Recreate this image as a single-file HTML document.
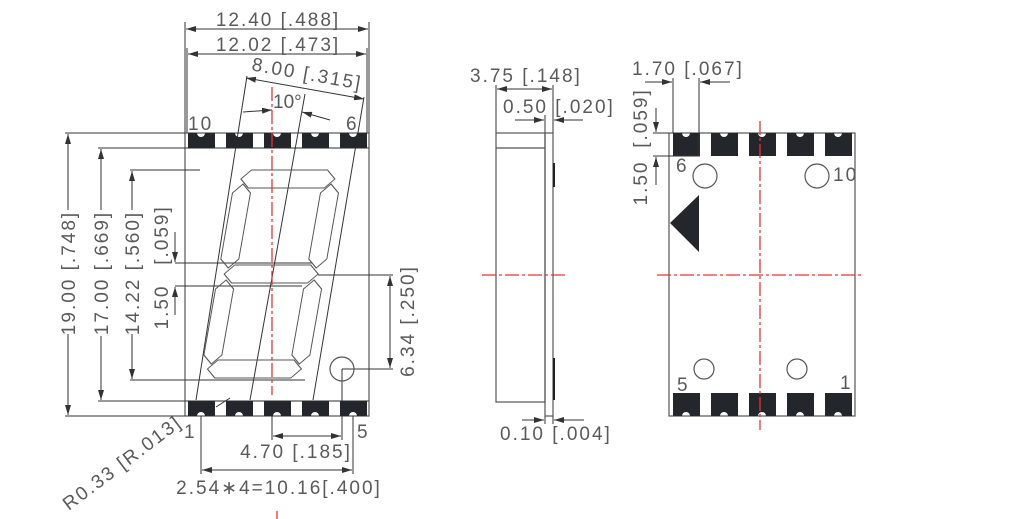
<!DOCTYPE html>
<html><head><meta charset="utf-8"><style>
html,body{margin:0;padding:0;background:#fff;width:1024px;height:519px;overflow:hidden}
text{font-family:"Liberation Sans",sans-serif;fill:#5a5a5a;font-size:19px;letter-spacing:2px}
</style></head><body>
<svg width="1024" height="519" viewBox="0 0 1024 519" xmlns="http://www.w3.org/2000/svg">
<defs>
<marker id="a" viewBox="0 0 10 6" refX="10" refY="3" markerWidth="10" markerHeight="6" orient="auto-start-reverse" markerUnits="userSpaceOnUse"><path d="M0,0L10,3L0,6z" fill="#333"/></marker>
<g id="padT"><path d="M0,0H9A4,4 0 0 0 17,0H27V15H0Z" fill="#23272b"/></g>
<g id="padB"><path d="M0,0H27V15H17A4,4 0 0 0 9,15H0Z" fill="#23272b"/></g>
<g id="padRT"><path d="M0,0H9A4,4 0 0 0 17,0H27V23H0Z" fill="#23272b"/></g>
<g id="padRB"><path d="M0,0H27V23H17A4,4 0 0 0 9,23H0Z" fill="#23272b"/></g>
</defs>
<g stroke="#555" stroke-width="1.2" fill="none">
<rect x="185" y="133" width="184" height="283"/>
<line x1="185" y1="133" x2="185" y2="22"/><line x1="369" y1="133" x2="369" y2="22"/>
<line x1="187" y1="133" x2="187" y2="48"/><line x1="367" y1="133" x2="367" y2="48"/>
<line x1="185" y1="148" x2="369" y2="148"/><line x1="185" y1="401" x2="369" y2="401"/>
</g>
<g stroke="#333" stroke-width="1" fill="none">
<line x1="186" y1="29" x2="368" y2="29" marker-start="url(#a)" marker-end="url(#a)"/>
<line x1="188" y1="54" x2="366" y2="54" marker-start="url(#a)" marker-end="url(#a)"/>
<line x1="246" y1="78" x2="364" y2="99" marker-start="url(#a)" marker-end="url(#a)"/>
<line x1="247" y1="76" x2="196" y2="400"/>
<line x1="364" y1="97" x2="313" y2="400"/>
<line x1="305" y1="94" x2="250" y2="400"/>
<line x1="243" y1="112" x2="272" y2="110" marker-end="url(#a)"/>
<line x1="330" y1="120" x2="302" y2="112" marker-end="url(#a)"/>
<line x1="65" y1="133" x2="185" y2="133"/><line x1="65" y1="416" x2="185" y2="416"/>
<line x1="98" y1="148" x2="185" y2="148"/><line x1="98" y1="401" x2="185" y2="401"/>
<line x1="130" y1="170" x2="200" y2="170"/><line x1="130" y1="380" x2="305" y2="380"/>
<line x1="68" y1="210" x2="68" y2="134" marker-end="url(#a)"/><line x1="68" y1="334" x2="68" y2="415" marker-end="url(#a)"/>
<line x1="101" y1="210" x2="101" y2="149" marker-end="url(#a)"/><line x1="101" y1="336" x2="101" y2="400" marker-end="url(#a)"/>
<line x1="132" y1="210" x2="132" y2="171" marker-end="url(#a)"/><line x1="132" y1="334" x2="132" y2="379" marker-end="url(#a)"/>
<line x1="175" y1="263" x2="312" y2="263"/><line x1="175" y1="286" x2="302" y2="286"/>
<line x1="175" y1="232" x2="175" y2="262" marker-end="url(#a)"/><line x1="175" y1="315" x2="175" y2="287" marker-end="url(#a)"/>
<line x1="318" y1="275" x2="393" y2="275"/><line x1="342" y1="369" x2="393" y2="369"/>
<line x1="390" y1="276" x2="390" y2="368" marker-start="url(#a)" marker-end="url(#a)"/>
<line x1="342" y1="369" x2="342" y2="440"/>
<line x1="272" y1="416" x2="272" y2="440"/>
<line x1="273" y1="436" x2="341" y2="436" marker-start="url(#a)" marker-end="url(#a)"/>
<line x1="201" y1="416" x2="201" y2="474"/><line x1="353" y1="416" x2="353" y2="474"/>
<line x1="202" y1="470" x2="352" y2="470" marker-start="url(#a)" marker-end="url(#a)"/>
<line x1="230" y1="398" x2="216" y2="407"/>
</g>
<circle cx="342" cy="369" r="12" fill="none" stroke="#555" stroke-width="1.2"/>
<g transform="translate(0,275) skewX(-10) translate(0,-275)" fill="none" stroke="#555" stroke-width="1">
<path d="M224,179L233,170H309L318,179L309,188H233Z"/>
<path d="M224,274L233,265H309L318,274L309,283H233Z"/>
<path d="M224,369L233,360H309L318,369L309,378H233Z"/>
<path d="M227,184L236,193V259L227,268L218,259V193Z"/>
<path d="M315,184L324,193V259L315,268L306,259V193Z"/>
<path d="M227,280L236,289V355L227,364L218,355V289Z"/>
<path d="M315,280L324,289V355L315,364L306,355V289Z"/>
</g>
<use href="#padT" x="188" y="133"/><use href="#padT" x="226" y="133"/><use href="#padT" x="264" y="133"/><use href="#padT" x="302" y="133"/><use href="#padT" x="340" y="133"/>
<use href="#padB" x="188" y="401"/><use href="#padB" x="226" y="401"/><use href="#padB" x="264" y="401"/><use href="#padB" x="302" y="401"/><use href="#padB" x="340" y="401"/>
<line x1="272" y1="87" x2="272" y2="395" stroke="#e33" stroke-width="1.3" stroke-dasharray="14,3,3,3"/>
<line x1="277" y1="511" x2="277" y2="519" stroke="#e33" stroke-width="1.3"/>
<text x="278" y="26" text-anchor="middle">12.40 [.488]</text>
<text x="278" y="51" text-anchor="middle">12.02 [.473]</text>
<text transform="translate(306,80) rotate(10)" text-anchor="middle">8.00 [.315]</text>
<text x="273" y="108" style="letter-spacing:0">10°</text>
<text x="188" y="130">10</text>
<text x="346" y="130">6</text>
<text x="184" y="438">1</text>
<text x="357" y="438">5</text>
<text transform="translate(75,273) rotate(-90)" text-anchor="middle">19.00 [.748]</text>
<text transform="translate(108,273) rotate(-90)" text-anchor="middle">17.00 [.669]</text>
<text transform="translate(139,273) rotate(-90)" text-anchor="middle">14.22 [.560]</text>
<text transform="translate(168,235) rotate(-90)" text-anchor="middle">[.059]</text>
<text transform="translate(168,307) rotate(-90)" text-anchor="middle">1.50</text>
<text transform="translate(414,321) rotate(-90)" text-anchor="middle">6.34 [.250]</text>
<text x="296" y="458" text-anchor="middle">4.70 [.185]</text>
<text x="279" y="494" text-anchor="middle">2.54∗4=10.16[.400]</text>
<text transform="translate(126,468) rotate(-37)" text-anchor="middle">R0.33 [R.013]</text>
<g stroke="#555" stroke-width="1.2" fill="none">
<rect x="496" y="133" width="49" height="269"/>
<line x1="496" y1="148" x2="545" y2="148"/>
<rect x="545" y="133" width="8" height="283"/>
<line x1="496" y1="133" x2="496" y2="85"/><line x1="553" y1="133" x2="553" y2="85"/>
<line x1="545" y1="133" x2="545" y2="115"/>
<line x1="545" y1="416" x2="545" y2="424"/><line x1="553" y1="416" x2="553" y2="424"/>
</g>
<line x1="554" y1="163" x2="554" y2="187" stroke="#222" stroke-width="2"/>
<line x1="554" y1="358" x2="554" y2="400" stroke="#222" stroke-width="2"/>
<g stroke="#333" stroke-width="1" fill="none">
<line x1="497" y1="89" x2="552" y2="89" marker-start="url(#a)" marker-end="url(#a)"/>
<line x1="515" y1="120" x2="544" y2="120" marker-end="url(#a)"/>
<line x1="583" y1="120" x2="554" y2="120" marker-end="url(#a)"/>
<line x1="522" y1="420" x2="544" y2="420" marker-end="url(#a)"/>
<line x1="584" y1="420" x2="554" y2="420" marker-end="url(#a)"/>
</g>
<line x1="482" y1="275" x2="568" y2="275" stroke="#e33" stroke-width="1.3" stroke-dasharray="14,3,3,3"/>
<text x="470" y="82">3.75 [.148]</text>
<text x="503" y="113">0.50 [.020]</text>
<text x="500" y="440">0.10 [.004]</text>
<rect x="669" y="133" width="186" height="283" fill="none" stroke="#555" stroke-width="1.2"/>
<use href="#padRT" x="673" y="133"/><use href="#padRT" x="711" y="133"/><use href="#padRT" x="749" y="133"/><use href="#padRT" x="787" y="133"/><use href="#padRT" x="825" y="133"/>
<use href="#padRB" x="673" y="393"/><use href="#padRB" x="711" y="393"/><use href="#padRB" x="749" y="393"/><use href="#padRB" x="787" y="393"/><use href="#padRB" x="825" y="393"/>
<g fill="none" stroke="#555" stroke-width="1.2">
<circle cx="705" cy="176" r="12"/><circle cx="817" cy="176" r="12"/>
<circle cx="704" cy="369" r="10"/><circle cx="797" cy="369" r="10"/>
</g>
<path d="M670,223L699,195V252Z" fill="#23272b"/>
<line x1="760" y1="121" x2="760" y2="430" stroke="#e33" stroke-width="1.3" stroke-dasharray="14,3,3,3"/>
<line x1="657" y1="275" x2="864" y2="275" stroke="#e33" stroke-width="1.3" stroke-dasharray="14,3,3,3"/>
<g stroke="#333" stroke-width="1" fill="none">
<line x1="673" y1="78" x2="673" y2="133"/><line x1="699" y1="78" x2="699" y2="156"/>
<line x1="645" y1="82" x2="672" y2="82" marker-end="url(#a)"/>
<line x1="730" y1="82" x2="700" y2="82" marker-end="url(#a)"/>
<line x1="653" y1="133" x2="669" y2="133"/><line x1="653" y1="156" x2="700" y2="156"/>
<line x1="656" y1="108" x2="656" y2="132" marker-end="url(#a)"/>
<line x1="656" y1="185" x2="656" y2="157" marker-end="url(#a)"/>
</g>
<text x="632" y="75">1.70 [.067]</text>
<text transform="translate(647,118) rotate(-90)" text-anchor="middle">[.059]</text>
<text transform="translate(647,183) rotate(-90)" text-anchor="middle">1.50</text>
<text x="676" y="172">6</text>
<text x="833" y="181">10</text>
<text x="677" y="391">5</text>
<text x="840" y="389">1</text>
</svg>
</body></html>
